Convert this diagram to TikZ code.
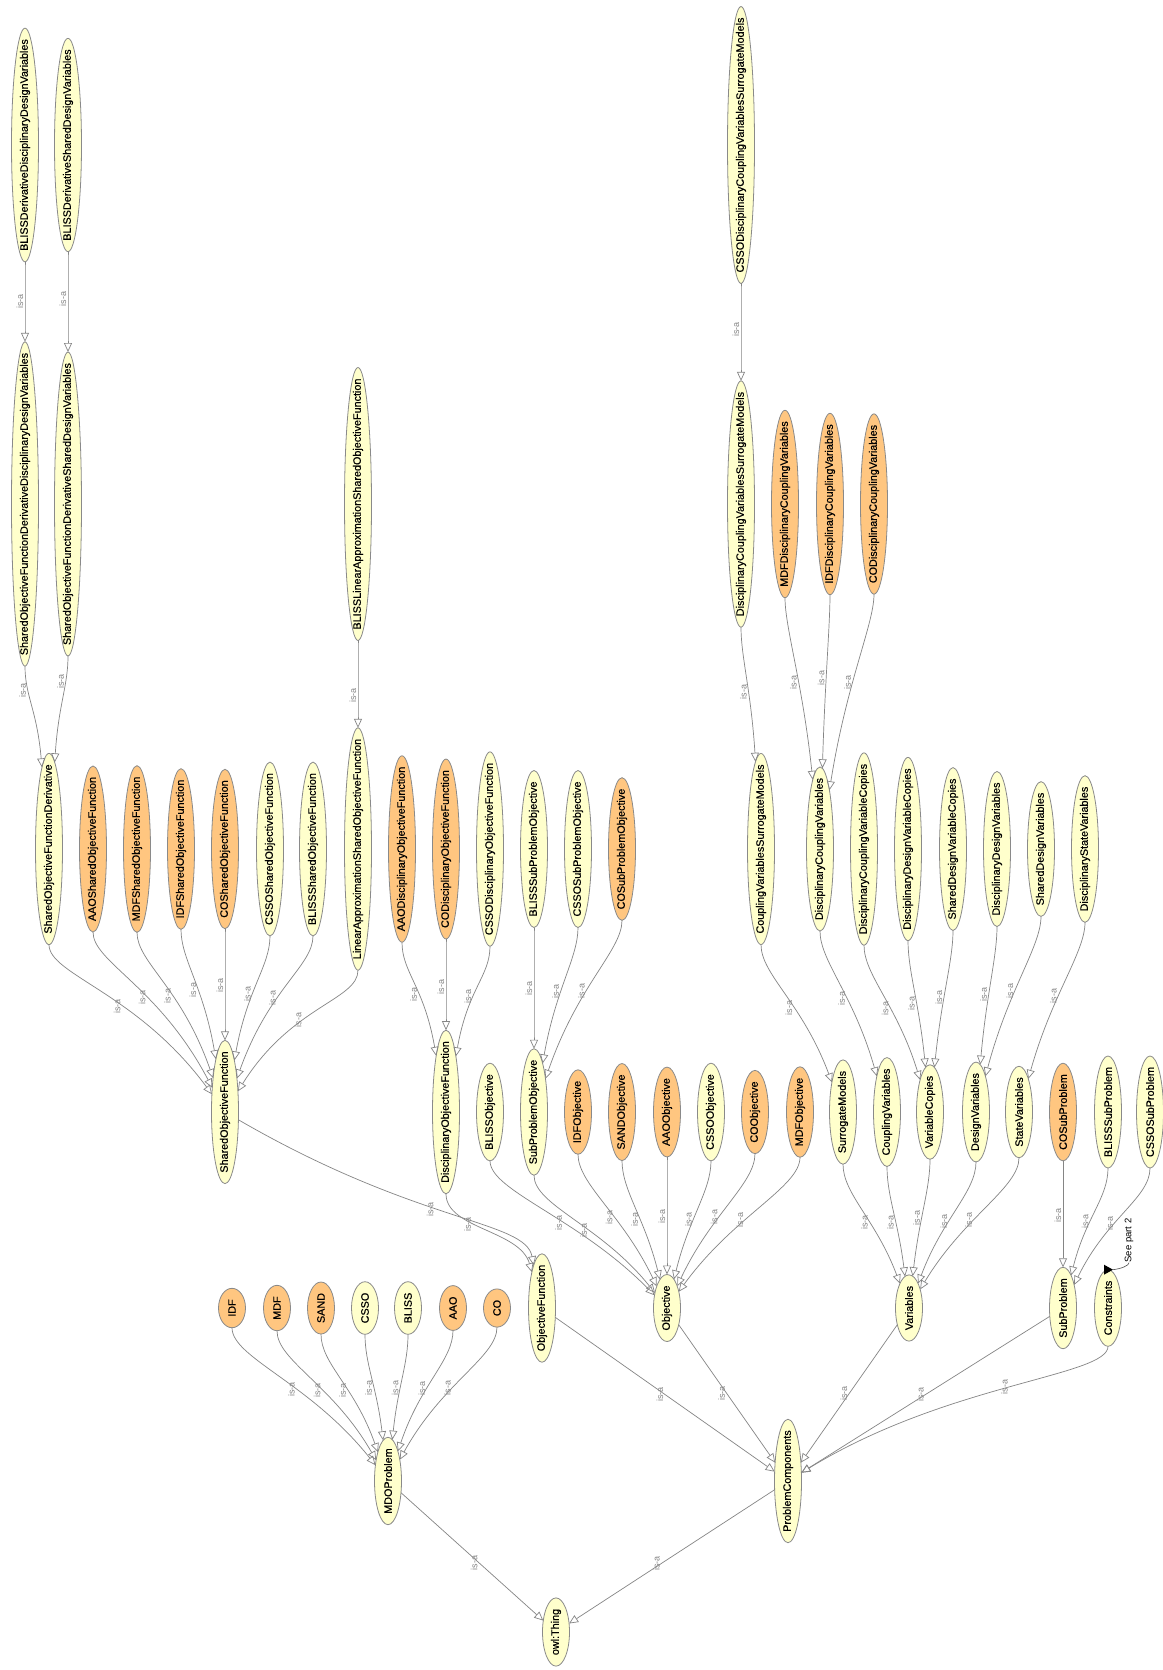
\documentclass[tikz,border=0pt]{standalone}
\usepackage{graphicx}
\usepackage{fontspec}
\setmainfont{Liberation Sans}
\newfontfamily\clsfont{Liberation Sans}[FakeBold=0.45]
\usetikzlibrary{shapes.geometric,arrows.meta,calc}

\definecolor{yel}{HTML}{FFFFCC}
\definecolor{org}{HTML}{FFC680}
\definecolor{rim}{HTML}{8A8A8A}
\definecolor{wire}{HTML}{858585}

\tikzset{
  cls/.style={ellipse, draw=rim, line width=.8pt, fill=yel, minimum width=27pt,
    inner sep=0pt, outer sep=0pt},
  ocls/.style={cls, fill=org},
  isa/.style={draw=wire, line width=.7pt, -{Triangle[open, length=9pt, width=8pt]}},
  lbl/.style={rotate=90, anchor=south, inner sep=1.5pt,
    font=\normalfont\fontsize{9}{10}\selectfont, text=wire},
}

% class: style, name, x, y, text (the ellipse follows the text length)
\newcommand\cnode[5][cls]{%
  \pgfmathsetmacro\clen{width("#5")+22}%
  \node[#1, minimum height=\clen pt] (#2) at (#3,#4) {\rotatebox{90}{\makebox[0pt]{#5}}};}
% subclass edge, leaving the child at its foot
\newcommand\isa[3][.6]{%
  \draw[isa] (#2.south) .. controls +(0,30) and ($(#2.south)!.5!(#3.north)$)
    .. node[lbl, pos=#1] {is-a} (#3);}
% subclass edge as a plain line
\newcommand\isaline[3][.5]{%
  \draw[isa] (#2) -- node[lbl, pos=#1] {is-a} (#3);}

\begin{document}
\clsfont\fontsize{10.8}{13}\selectfont
\begin{tikzpicture}[x=1pt, y=-1pt]
  \fill[white] (0,0) rectangle (1162,1670);
  \useasboundingbox (0,0) rectangle (1162,1670);

  % top row
  \cnode{bddv}{25}{145}{BLISSDerivativeDisciplinaryDesignVariables}
  \cnode{bdsv}{68}{145}{BLISSDerivativeSharedDesignVariables}
  \cnode{cssodcvsm}{741}{145}{CSSODisciplinaryCouplingVariablesSurrogateModels}

  \cnode{sofdddv}{25}{504}{SharedObjectiveFunctionDerivativeDisciplinaryDesignVariables}
  \cnode{sofdsdv}{68}{504}{SharedObjectiveFunctionDerivativeSharedDesignVariables}
  \cnode{blasof}{358}{504}{BLISSLinearApproximationSharedObjectiveFunction}
  \cnode{dcvsm}{741}{504}{DisciplinaryCouplingVariablesSurrogateModels}
  \cnode[ocls]{mdfdcv}{785}{504}{MDFDisciplinaryCouplingVariables}
  \cnode[ocls]{idfdcv}{830}{504}{IDFDisciplinaryCouplingVariables}
  \cnode[ocls]{codcv}{874}{504}{CODisciplinaryCouplingVariables}

  % objective functions and variables
  \cnode{sofd}{49}{849}{SharedObjectiveFunctionDerivative}
  \cnode[ocls]{aaosof}{93}{849}{AAOSharedObjectiveFunction}
  \cnode[ocls]{mdfsof}{137}{849}{MDFSharedObjectiveFunction}
  \cnode[ocls]{idfsof}{181}{849}{IDFSharedObjectiveFunction}
  \cnode[ocls]{cosof}{225}{849}{COSharedObjectiveFunction}
  \cnode{cssosof}{270}{849}{CSSOSharedObjectiveFunction}
  \cnode{blisssof}{313}{849}{BLISSSharedObjectiveFunction}
  \cnode{lasof}{358}{849}{LinearApproximationSharedObjectiveFunction}
  \cnode[ocls]{aaodof}{402}{849}{AAODisciplinaryObjectiveFunction}
  \cnode[ocls]{codof}{446}{849}{CODisciplinaryObjectiveFunction}
  \cnode{cssodof}{490}{849}{CSSODisciplinaryObjectiveFunction}
  \cnode{blisssubpo}{534}{849}{BLISSSubProblemObjective}
  \cnode{cssosubpo}{578}{849}{CSSOSubProblemObjective}
  \cnode[ocls]{cosubpo}{622}{849}{COSubProblemObjective}
  \cnode{cvsm}{761}{849}{CouplingVariablesSurrogateModels}
  \cnode{dcv}{820}{849}{DisciplinaryCouplingVariables}
  \cnode{dcvc}{864}{849}{DisciplinaryCouplingVariableCopies}
  \cnode{ddvc}{908}{849}{DisciplinaryDesignVariableCopies}
  \cnode{sdvc}{953}{849}{SharedDesignVariableCopies}
  \cnode{ddv}{997}{849}{DisciplinaryDesignVariables}
  \cnode{sdv}{1041}{849}{SharedDesignVariables}
  \cnode{dsv}{1085}{849}{DisciplinaryStateVariables}

  \cnode{sof}{225}{1112}{SharedObjectiveFunction}
  \cnode{dof}{446}{1112}{DisciplinaryObjectiveFunction}
  \cnode{blissobj}{490}{1112}{BLISSObjective}
  \cnode{subpo}{534}{1112}{SubProblemObjective}
  \cnode[ocls]{idfobj}{578}{1112}{IDFObjective}
  \cnode[ocls]{sandobj}{622}{1112}{SANDObjective}
  \cnode[ocls]{aaoobj}{667}{1112}{AAOObjective}
  \cnode{cssoobj}{711}{1112}{CSSOObjective}
  \cnode[ocls]{coobj}{755}{1112}{COObjective}
  \cnode[ocls]{mdfobj}{800}{1112}{MDFObjective}
  \cnode{surm}{843}{1112}{SurrogateModels}
  \cnode{cv}{887}{1112}{CouplingVariables}
  \cnode{vc}{930}{1112}{VariableCopies}
  \cnode{dv}{976}{1112}{DesignVariables}
  \cnode{sv}{1019}{1112}{StateVariables}
  \cnode[ocls]{cosubp}{1063}{1112}{COSubProblem}
  \cnode{blisssubp}{1108}{1112}{BLISSSubProblem}
  \cnode{cssosubp}{1150}{1112}{CSSOSubProblem}

  % architectures and problem components
  \cnode[ocls]{idf}{232}{1308}{IDF}
  \cnode[ocls]{mdf}{277}{1308}{MDF}
  \cnode[ocls]{sand}{321}{1308}{SAND}
  \cnode{csso}{365}{1308}{CSSO}
  \cnode{bliss}{408}{1308}{BLISS}
  \cnode[ocls]{aao}{453}{1308}{AAO}
  \cnode[ocls]{co}{497}{1308}{CO}
  \cnode{objf}{542}{1308}{ObjectiveFunction}
  \cnode{objective}{667}{1308}{Objective}
  \cnode{variables}{909}{1308}{Variables}
  \cnode{subp}{1063}{1308}{SubProblem}
  \cnode{cons}{1108}{1308}{Constraints}

  \cnode{mdop}{388}{1481}{MDOProblem}
  \cnode{pc}{788}{1481}{ProblemComponents}
  \cnode{thing}{556}{1632}{owl:Thing}

  % link to the second part
  \node[rotate=90, anchor=west, inner sep=0pt, font=\normalfont\fontsize{9.5}{11}\selectfont]
    (part2) at ($(cons.north)+(21,-7)$) {See part 2};
  \fill ($(cons.north)+(-4,5)$) -- ++(0,-10) -- ++(9,5) -- cycle;
  \draw[line width=.6pt, black!70] ($(cons.north)+(5,0)$) .. controls +(8,-1) and +(0,3) .. (part2.west);

  % is-a edges
  \isa[.55]{bddv}{sofdddv}
  \isa[.55]{bdsv}{sofdsdv}
  \isa[.55]{cssodcvsm}{dcvsm}
  \isa[.7]{blasof}{lasof}

  \isa[.3]{sofdddv}{sofd}
  \isa[.3]{sofdsdv}{sofd}
  \isa{dcvsm}{cvsm}
  \isa{mdfdcv}{dcv}
  \isa{idfdcv}{dcv}
  \isa{codcv}{dcv}

  \isa{sofd}{sof}
  \isa{aaosof}{sof}
  \isa{mdfsof}{sof}
  \isa{idfsof}{sof}
  \isa{cosof}{sof}
  \isa{cssosof}{sof}
  \isa{blisssof}{sof}
  \isa{lasof}{sof}
  \isa{aaodof}{dof}
  \isa{codof}{dof}
  \isa{cssodof}{dof}
  \isa{blisssubpo}{subpo}
  \isa{cssosubpo}{subpo}
  \isa{cosubpo}{subpo}
  \isa{cvsm}{surm}
  \isa{dcv}{cv}
  \isa{dcvc}{vc}
  \isa{ddvc}{vc}
  \isa{sdvc}{vc}
  \isa{ddv}{dv}
  \isa{sdv}{dv}
  \isa{dsv}{sv}

  \draw[isa] (sof) .. controls (420,1225) and (525,1220) .. node[lbl, pos=.45] {is-a} (objf);
  \draw[isa] (dof.south) .. controls +(0,35) and (520,1230) .. node[lbl, pos=.4] {is-a} (objf);
  \isa{blissobj}{objective}
  \isa{subpo}{objective}
  \isa{idfobj}{objective}
  \isa{sandobj}{objective}
  \isa{aaoobj}{objective}
  \isa{cssoobj}{objective}
  \isa{coobj}{objective}
  \isa{mdfobj}{objective}
  \isa{surm}{variables}
  \isa{cv}{variables}
  \isa{vc}{variables}
  \isa{dv}{variables}
  \isa{sv}{variables}
  \isa{cosubp}{subp}
  \isa{blisssubp}{subp}
  \isa{cssosubp}{subp}

  \isa{idf}{mdop}
  \isa{mdf}{mdop}
  \isa{sand}{mdop}
  \isa{csso}{mdop}
  \isa{bliss}{mdop}
  \isa{aao}{mdop}
  \isa{co}{mdop}
  \isaline{objf}{pc}
  \isaline{objective}{pc}
  \isaline{variables}{pc}
  \isaline{subp}{pc}
  \isa[.5]{cons}{pc}

  \isaline[.55]{mdop}{thing}
  \isaline[.55]{pc}{thing}
\end{tikzpicture}
\end{document}
